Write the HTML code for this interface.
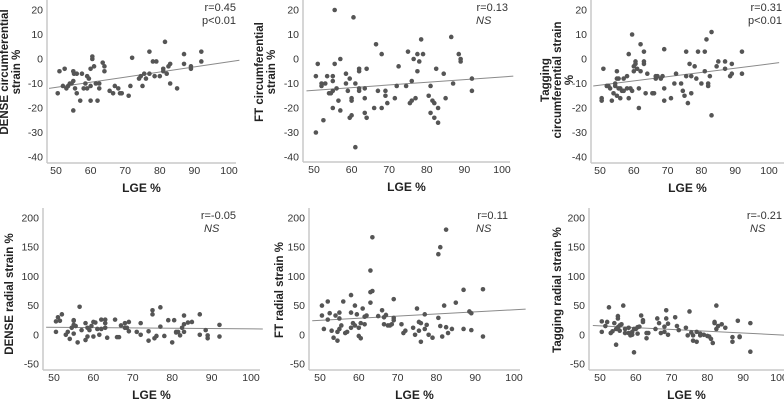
<!DOCTYPE html>
<html><head><meta charset="utf-8">
<style>
html,body{margin:0;padding:0;background:#fff;}
svg{display:block;font-family:"Liberation Sans",Arial,sans-serif;}
</style></head>
<body>
<svg id="c" width="784" height="400" viewBox="0 0 784 400" xmlns="http://www.w3.org/2000/svg"></svg>
<script>
const xTicks=[50,60,70,80,90,100];
const circTicks=[20,10,0,-10,-20,-30,-40];
const radTicks=[200,150,100,50,0,-50];
const titles=[["DENSE circumferential","strain %"],["FT circumferential","strain %"],["Tagging","circumferential strain","%"],["DENSE radial strain %"],["FT radial strain %"],["Tagging radial strain %"]];
const rLabels=["r=0.45","r=0.13","r=0.31","r=-0.05","r=0.11","r=-0.21"];
const pLabels=["p<0.01","NS","p<0.01","NS","NS","NS"];
const fitStart=[-12,-13,-11,13,24,16];
const fitEnd=[-0.5,-7,-1.5,10,44,-1];
const d1=[[50.5,-14],[51,-5],[52,-11],[52.5,-4],[53,-12],[53.5,-11],[54,-10],[54.5,-10],[55,-5],[55,-9],[55.2,-6],[55,-21],[55.5,-12],[56,-6],[56,-14],[57,-17],[57.5,-6],[58,-12],[58.5,-10],[59,-7],[59,-12],[59.5,-8],[60,-4],[60,-11],[60,-17],[60.5,0],[60.5,1],[61,-3],[61.5,-10],[62,-17],[62.5,-10],[62.5,-12],[63.5,-1.5],[64,-5],[64,-3],[65.5,-13],[66.5,-14],[67,-11],[68,-12],[68.5,-14],[69,-14],[71,-15],[71.5,-11],[72,0.5],[74,-8],[74.5,-7],[75,-11],[75.5,-6],[76,-8],[77,3],[77,-6],[78,-1],[78.5,-7],[79,-1],[80,-7],[81,-4],[81,-5],[81.5,7],[82,-6],[82.5,-3],[83,-2],[83,-10],[85,-12],[87,2],[87,-2],[89,-3],[89,-4],[92,3],[92,-1]];
const d2=[[50.5,-7],[50.5,-30],[51,-2],[52,-10],[52,-11],[52.5,-25],[53,-10],[53.5,-7],[54,-14],[54.5,-14],[55,-7],[55,-9],[55,-13],[55,-20],[55.5,-2],[55.5,20],[56,-12],[56.5,-17],[57,0],[57,-21],[58.5,-6],[58.5,-10],[59,-13],[59.5,-8],[59.5,-24],[60,-23],[60,-16],[60,-17],[60.5,17],[61,-10],[61,-36],[62,-4],[62,-5],[62,-12],[62,-13],[63.5,-12],[63.5,-16],[63.5,-22],[64,-24],[64,-4],[66,-20],[66.5,6],[67,-13],[68,2],[68,-20],[69,-15],[69,-13],[69.5,-18],[71.5,-16],[72,-11],[72.5,-3],[74.5,-11],[75,3],[75.5,-18],[76,-17],[76,-9],[76.5,0],[77,-16],[77.5,2],[77.5,-5],[78,-1],[78.5,8],[79,2],[80.5,-15],[81,-11],[81,-22],[81.5,-17],[82,-24],[82,-18],[82.5,-4],[83,-20],[83,-26],[84.5,-6],[85,-16],[86.5,9],[87,-10],[88.5,2],[89,-1],[89,0],[92,-8],[92,-13]];
const d3=[[50.5,-16],[50.5,-17],[51,-4],[52,-11],[52.5,-11],[53,-12],[53.5,-17],[54,-14],[54.5,-10],[54.5,-11],[55,-8],[55,-5],[55,-15],[55.5,-8],[55.5,-12],[56,-16],[56,-12],[56.5,-13],[57,-8],[57,-13],[58,-7],[58,-12],[58.5,-16],[58.5,2],[59,-12],[59.5,10],[59.5,-13],[60,-3],[60,-5],[60.5,-1],[60.5,-2],[61,-4],[61.5,-20],[61.5,-12],[62,6],[62,-5],[63,-1],[63,-2],[63,3],[63.5,-14],[64,-6],[65.5,-14],[66,-14],[66.5,-8],[66.5,-7],[67,-7],[68,-8],[68.5,-7],[69,-17],[69,4],[69,-12],[71,-16],[72,-10],[72.5,-6],[74,-10],[74.5,-13],[75,-15],[75.5,3],[75.5,-7],[76,-18],[76.5,-2],[77,-7],[77,-14],[78,-3],[78.5,-8],[79,3],[80,-10],[81,3],[81,-5],[81.5,8],[82,-10],[82,-11],[82.5,-7],[83,11],[83,-23],[84.5,-3],[85,-1],[87,-1],[87,-4],[88.5,-7],[89,-6],[89,-2],[92,3],[92,-6]];
const d4=[[50.5,5],[50.5,23],[51,30],[51.5,24],[52,35],[53,0],[53.5,5],[54,-7],[54.5,12],[55,2],[55,17],[55,25],[55,24],[55.5,15],[56,-13],[56.5,48],[57,8],[58,20],[58,-9],[58.5,-3],[58.5,12],[59,8],[59.5,15],[60,22],[60,-3],[60.5,21],[61,10],[61.5,0],[62,10],[62,26],[63,26],[63,20],[63,12],[63.5,-5],[65.5,26],[66,-4],[66.5,-4],[67,16],[68,20],[68,12],[68.5,12],[69,22],[69,6],[71,5],[72,20],[72,0],[74,-10],[74,6],[75,35],[75,42],[75.5,-6],[76,-2],[77,47],[77,14],[78,-2],[79,25],[80,-13],[80.5,25],[81,5],[81,4],[81.5,5],[82,-1],[82.5,12],[83,18],[83,33],[83,5],[84,21],[85,22],[87,35],[87,0],[88.5,8],[89,-1],[89,-6],[92,17],[92,-3]];
const d5=[[50.5,50],[50.5,33],[51,10],[52,26],[52,57],[52.5,37],[53,7],[53.5,-5],[54,33],[54.5,-10],[54.5,5],[55,28],[55,10],[55,38],[55.5,16],[56,57],[56.5,3],[57,5],[58,12],[58,68],[58,38],[58.5,20],[59,50],[59,16],[59.5,35],[60,12],[60,-2],[60.5,-6],[60.5,20],[61,45],[61.5,31],[61.5,18],[62,33],[63,55],[63,110],[63.5,167],[63,73],[63.5,75],[65,32],[66,42],[66.5,18],[66.5,30],[67,34],[67.5,16],[68,16],[68.5,18],[69,61],[69,25],[69,29],[71,18],[71.5,3],[72,7],[74,12],[74.5,0],[75,45],[75.5,22],[75.5,7],[76,-12],[76,20],[77,10],[77,35],[77.5,17],[78,0],[79,-5],[80.5,29],[80.5,138],[81,15],[81,150],[81.5,-3],[82,50],[82.5,180],[82.5,13],[83,3],[84,10],[85,55],[87,10],[87,77],[88.5,40],[89,37],[89,8],[92,78],[92,-3]];
const d6=[[50.5,23],[50.5,5],[51.5,15],[52,22],[52.5,47],[53,3],[53.5,6],[54,20],[54.5,-17],[54.5,10],[55,32],[55,28],[55,13],[55.5,16],[55.5,7],[56,18],[56.5,50],[57,10],[57,3],[58,12],[58,3],[58.5,-1],[59,5],[59,0],[59.5,-30],[59.5,10],[60,10],[60.5,13],[60.5,2],[61,14],[61.5,33],[62,25],[62,22],[63,3],[63,-6],[63.5,3],[65.5,10],[66,28],[66.5,20],[67,3],[68,5],[68,14],[68.5,28],[68.5,42],[69,19],[69,0],[71,30],[71.5,15],[72,8],[74,12],[74.5,-1],[75,40],[75.5,4],[76,-1],[76,-10],[77,-12],[77,5],[78,-1],[78,2],[79,0],[80,-2],[80.5,-3],[81,-7],[81.5,-14],[82,20],[82,22],[82.5,50],[82.5,10],[83,15],[84,18],[85,12],[87,-12],[87,-4],[88.5,24],[89,-3],[89,-4],[92,20],[92,-29]];
const datasets=[d1,d2,d3,d4,d5,d6];

const NS="http://www.w3.org/2000/svg";
const svg=document.getElementById('c');
function mk(tag,attrs,parent){const e=document.createElementNS(NS,tag);for(const k in attrs)e.setAttribute(k,attrs[k]);(parent||svg).appendChild(e);return e;}
const L=[
 {ax:47,r:236,x50:56,x100:229,top:0,base:163,hv:20,hp:10,lv:-40,lp:157,tx:[5,17],ty:72,an:[238,11]},
 {ax:303,r:510,x50:314,x100:502,top:0,base:162,hv:20,hp:10,lv:-40,lp:157,tx:[260,272],ty:72,an:[510,11]},
 {ax:591,r:784,x50:600,x100:769,top:0,base:163,hv:20,hp:10,lv:-40,lp:157,tx:[546,558,570],ty:80,an:[784,11]},
 {ax:43,r:260,x50:54,x100:251,top:208,base:370,hv:200,hp:218,lv:-50,lp:364,tx:[10],ty:294,an:[238,219]},
 {ax:309,r:520,x50:320,x100:514,top:208,base:370,hv:200,hp:218,lv:-50,lp:364,tx:[280],ty:290,an:[510,219]},
 {ax:589,r:784,x50:600,x100:779,top:208,base:370,hv:200,hp:218,lv:-50,lp:364,tx:[558],ty:290,an:[784,219]}
];
L.forEach((p,i)=>{
  const g=mk('g',{});
  
  
  const X=v=>p.x50+(v-50)*(p.x100-p.x50)/50;
  const Y=v=>p.hp+(v-p.hv)*(p.lp-p.hp)/(p.lv-p.hv);
  const ya=mk('line',{x1:p.ax,y1:p.top,x2:p.ax,y2:p.base,stroke:'#c8c8c8','stroke-width':1.5},g);
  
  const xa=mk('line',{x1:p.ax,y1:p.base,x2:p.r,y2:p.base,stroke:'#c8c8c8','stroke-width':1.5},g);
  
  const yt=i<3?circTicks:radTicks;
  yt.forEach(t=>{const e=mk('text',{x:p.ax-4,y:Y(t)+3.5,'text-anchor':'end','font-size':10.5,fill:'#333'},g);e.textContent=t;
    });
  xTicks.forEach(t=>{const e=mk('text',{x:X(t),y:p.base+11,'text-anchor':'middle','font-size':10.5,fill:'#333'},g);e.textContent=t;
    });
  const xt=mk('text',{x:(p.ax+p.r)/2,y:p.base+29,'text-anchor':'middle','font-size':12,'font-weight':'bold',fill:'#222'},g);xt.textContent='LGE %';
  
  titles[i].forEach((s,j)=>{const tx=p.tx[j];const e=mk('text',{x:tx,y:p.ty,'text-anchor':'middle','font-size':11.5,'font-weight':'bold',fill:'#222',transform:`rotate(-90 ${tx} ${p.ty})`,'dominant-baseline':'central'},g);e.textContent=s;
    });
  const fl=mk('line',{x1:X(48),y1:Y(fitStart[i]),x2:X(103),y2:Y(fitEnd[i]),stroke:'#8a8a8a','stroke-width':1},g);
  
  datasets[i].forEach(d=>{const c=mk('circle',{cx:X(d[0]),cy:Y(d[1]),r:2.3,fill:'#555'},g);
    });
  const r=mk('text',{x:p.an[0]-2,y:p.an[1],'text-anchor':'end','font-size':11,fill:'#333'},g);r.textContent=rLabels[i];
  
  const pv=pLabels[i];
  const q=mk('text',{x:pv==='NS'?p.an[0]-34:p.an[0]-2,y:p.an[1]+13,'text-anchor':pv==='NS'?'start':'end','font-size':11,fill:'#333','font-style':pv==='NS'?'italic':'normal'},g);q.textContent=pv;
  
});
</script>
</body></html>
